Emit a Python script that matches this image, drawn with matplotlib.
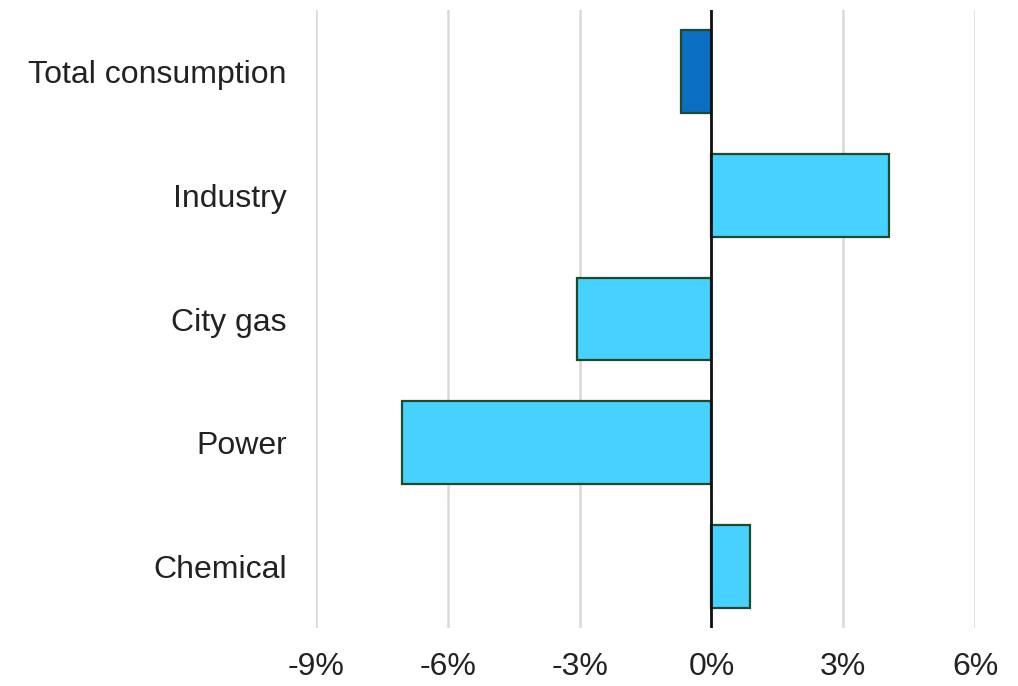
import matplotlib
matplotlib.use("Agg")
import matplotlib.pyplot as plt
from matplotlib.ticker import FuncFormatter

categories = ["Total consumption", "Industry", "City gas", "Power", "Chemical"]
values = [-0.7, 4.05, -3.05, -7.05, 0.87]
colors = ["#0A6FC2", "#47D1FF", "#47D1FF", "#47D1FF", "#47D1FF"]
xticks = [-9, -6, -3, 0, 3, 6]

plt.rcParams['font.family'] = ['Liberation Sans', 'DejaVu Sans']

fig = plt.figure(figsize=(10.18, 6.86), dpi=100)
ax = fig.add_axes([316/1018, 1-628/686, (975-316)/1018, (628-10)/686])

y = list(range(len(categories)))
ax.barh(y, values, height=0.67, color=colors, edgecolor="#1E4A2C", linewidth=1.6, zorder=3)
ax.axvline(0, color="#111111", linewidth=2, zorder=4)

ax.set_xlim(-9, 6)
ax.set_ylim(len(categories) - 0.5, -0.5)
ax.set_yticks(y)
ax.set_yticklabels(categories)
ax.set_xticks(xticks)
ax.xaxis.set_major_formatter(FuncFormatter(lambda v, p: f"{v:.0f}%"))
ax.grid(axis="x", color="#D9D9D9", linewidth=1.8, zorder=0)
for s in ax.spines.values():
    s.set_visible(False)
ax.tick_params(axis="both", length=0, labelsize=23, colors="#222222")
ax.tick_params(axis="x", pad=17)
ax.tick_params(axis="y", pad=21)

fig.savefig("out.png", dpi=100)
